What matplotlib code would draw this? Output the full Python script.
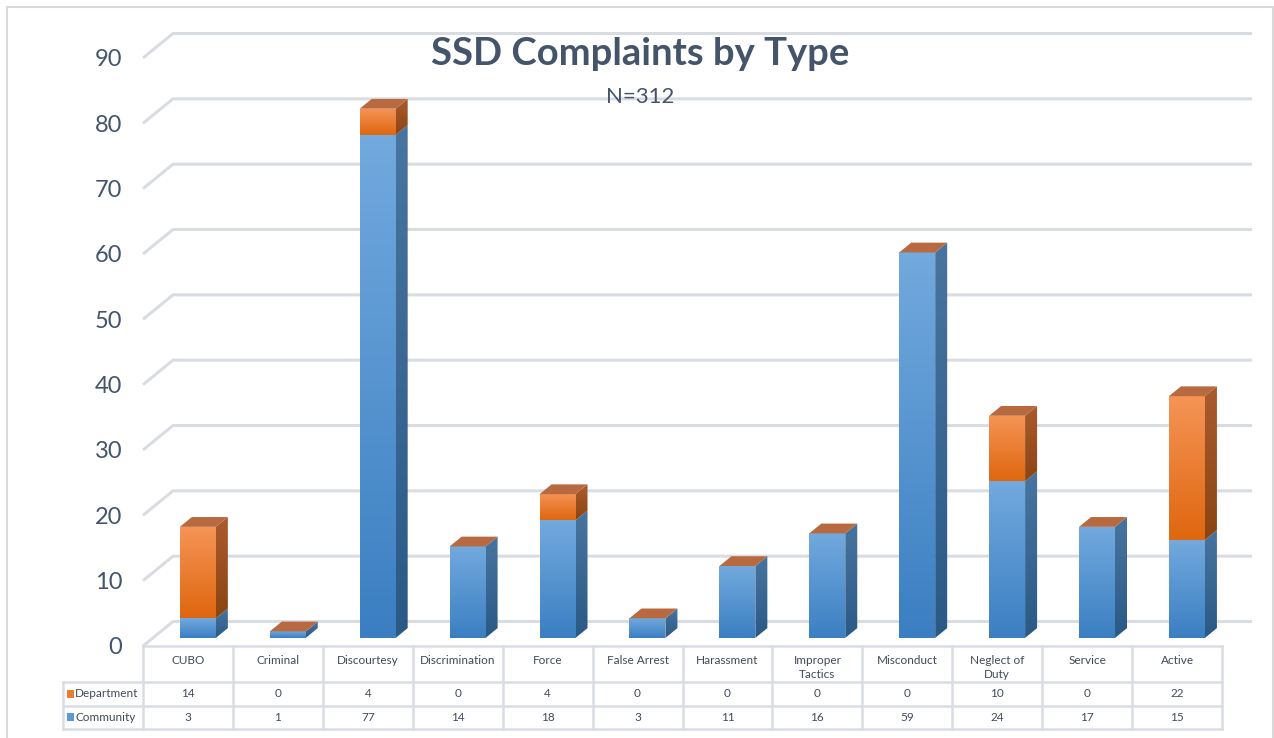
import numpy as np
import matplotlib
matplotlib.use("Agg")
import matplotlib.pyplot as plt
from matplotlib.patches import Polygon, Rectangle
from matplotlib.colors import LinearSegmentedColormap

# ---- data ----
categories = ["CUBO", "Criminal", "Discourtesy", "Discrimination", "Force",
              "False Arrest", "Harassment", "Improper\nTactics", "Misconduct",
              "Neglect of\nDuty", "Service", "Active"]
department = [14, 0, 4, 0, 4, 0, 0, 0, 0, 10, 0, 22]
community = [3, 1, 77, 14, 18, 3, 11, 16, 59, 24, 17, 15]
y_ticks = list(range(0, 100, 10))
title = "SSD Complaints by Type"
subtitle = "N=312"

# ---- style ----
plt.rcParams["font.family"] = ["Lato", "DejaVu Sans"]
TXT = "#44546a"
GRID = "#d9dde3"
BLUE_F = ("#72a9de", "#3b7fc2")
BLUE_S = ("#48759f", "#2b5986")
ORG_F = ("#f59456", "#df670f")
ORG_S = ("#aa5b2d", "#8c4413")
TOP = "#b8693f"

W, H = 1274, 738
n = len(categories)
DX, DY = 30 / 89.9, 24.5 / 6.533      # full depth of the 3D box (data units)
F0, FD = 0.33, 0.40                   # bar front position / bar depth (fractions)
BW = 0.40

fig = plt.figure(figsize=(W / 100, H / 100), dpi=100)
ax = fig.add_axes([143 / W, 1 - 646 / H, (1222 - 143) / W, (646 - 58) / H])


def grad_fill(verts, c_top, c_bot, z, clip=None):
    xs = [v[0] for v in verts]
    ys = [v[1] for v in verts]
    if max(ys) - min(ys) <= 0 or max(xs) - min(xs) <= 0:
        return
    if clip is None:
        clip = Polygon(verts, closed=True, facecolor="none", edgecolor="none")
        ax.add_patch(clip)
    cmap = LinearSegmentedColormap.from_list("g", [c_bot, c_top])
    im = ax.imshow(np.linspace(0, 1, 64)[:, None], cmap=cmap, origin="lower",
                   extent=(min(xs), max(xs), min(ys), max(ys)),
                   aspect="auto", zorder=z, interpolation="bilinear")
    im.set_clip_path(clip)


# back wall gridlines
for v in y_ticks:
    ax.plot([-0.5, -0.5 + DX, n - 0.5 + DX], [v, v + DY, v + DY],
            color=GRID, lw=2.2, clip_on=False, zorder=0, solid_capstyle="butt")

x = np.arange(n) + F0 * DX
base = F0 * DY
comm = np.array(community, dtype=float)
dept = np.array(department, dtype=float)

b1 = ax.bar(x, comm, width=BW, bottom=base, color=BLUE_F[1], lw=0, zorder=2)
b2 = ax.bar(x, dept, width=BW, bottom=base + comm, color=ORG_F[1], lw=0, zorder=2)

ddx, ddy = FD * DX, FD * DY
for bars, fcol, scol in [(b1, BLUE_F, BLUE_S), (b2, ORG_F, ORG_S)]:
    for p in bars:
        x0, y0, w, h = p.get_x(), p.get_y(), p.get_width(), p.get_height()
        if h > 0:
            grad_fill([(x0, y0), (x0 + w, y0), (x0 + w, y0 + h), (x0, y0 + h)],
                      fcol[0], fcol[1], 3, clip=p)
            x1 = x0 + w
            grad_fill([(x1, y0), (x1 + ddx, y0 + ddy), (x1 + ddx, y0 + h + ddy), (x1, y0 + h)],
                      scol[0], scol[1], 3)

# top faces (department segment's top, shown even when it is zero)
for p in b2:
    x0, w = p.get_x(), p.get_width()
    t = p.get_y() + p.get_height()
    ax.add_patch(Polygon([(x0, t), (x0 + w, t), (x0 + w + ddx, t + ddy), (x0 + ddx, t + ddy)],
                         closed=True, facecolor=TOP, edgecolor="none", zorder=4))

ax.set_xlim(-0.5, n - 0.5)
ax.set_ylim(0, 90)
ax.set_yticks(y_ticks)
ax.set_xticks([])
ax.tick_params(axis="y", length=0, pad=15, labelsize=17, labelcolor=TXT)
for s in ax.spines.values():
    s.set_visible(False)
ax.patch.set_alpha(0)

# ---- data table ----
tl = -0.5 - (143 - 63) / 89.9
axt = fig.add_axes([63 / W, 1 - 729 / H, (1222 - 63) / W, 83 / H])
axt.set_xlim(tl, n - 0.5)
axt.set_ylim(83, 0)
axt.axis("off")
rows = [0, 36, 59.5, 83]
lk = dict(color=GRID, lw=1.8, clip_on=False)
axt.plot([-0.5, n - 0.5], [rows[0]] * 2, **lk)
for r in rows[1:]:
    axt.plot([tl, n - 0.5], [r, r], **lk)
for j in range(n + 1):
    axt.plot([j - 0.5, j - 0.5], [rows[0], rows[3]], **lk)
axt.plot([tl, tl], [rows[1], rows[3]], **lk)

TTXT = "#404a58"
for i, c in enumerate(categories):
    for k, line in enumerate(c.split("\n")):
        axt.text(i, 15 + 14 * k, line, ha="center", va="center",
                 fontsize=8.5, color=TTXT)
    axt.text(i, (rows[1] + rows[2]) / 2, str(department[i]), ha="center",
             va="center", fontsize=8.5, color=TTXT)
    axt.text(i, (rows[2] + rows[3]) / 2, str(community[i]), ha="center",
             va="center", fontsize=8.5, color=TTXT)

for (r0, r1), lab, col in [((rows[1], rows[2]), "Department", "#ed7d31"),
                           ((rows[2], rows[3]), "Community", "#5b9bd5")]:
    ym = (r0 + r1) / 2
    axt.add_patch(Rectangle((tl + 0.04, ym - 3.8), 0.085, 7.6, facecolor=col,
                            edgecolor="none", clip_on=False))
    axt.text(tl + 0.135, ym, lab, ha="left", va="center", fontsize=8.5, color=TTXT)

# titles
fig.text(640 / W, 1 - 54 / H, title, ha="center", va="center", fontsize=27.5,
         fontweight="bold", color=TXT)
fig.text(640 / W, 1 - 97 / H, subtitle, ha="center", va="center", fontsize=16,
         color=TXT)

# chart frame
fig.add_artist(Rectangle((7 / W, -0.05), (1273 - 7) / W, 1.05 - 7 / H,
                         transform=fig.transFigure, fill=False,
                         edgecolor="#d9d9d9", lw=1.5))

fig.savefig("out.png", dpi=100)
